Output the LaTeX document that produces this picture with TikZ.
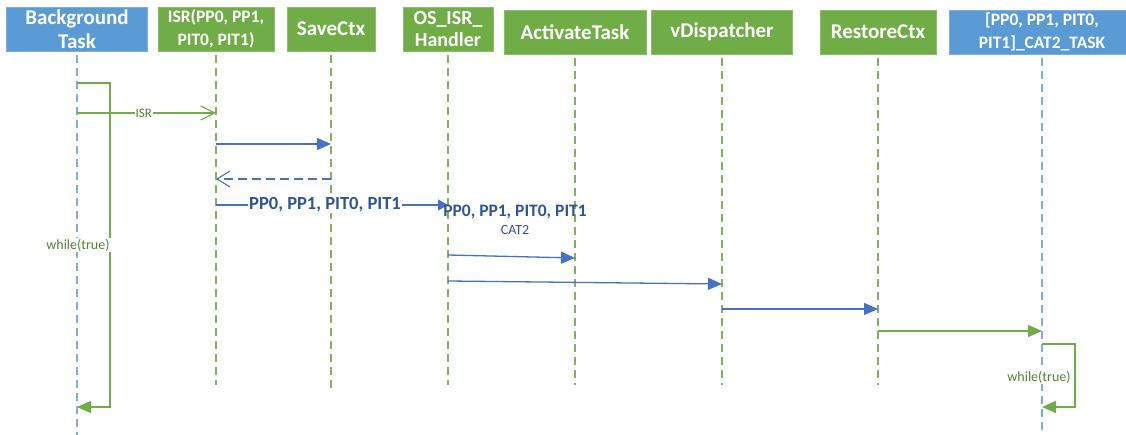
\documentclass[tikz,border=0pt]{standalone}
\usepackage{fontspec}
\setmainfont{Carlito}
\usetikzlibrary{arrows.meta}
\definecolor{boxblue}{HTML}{5B9BD5}
\definecolor{boxgreen}{HTML}{70AD47}
\definecolor{msgblue}{HTML}{4472C4}
\definecolor{lblblue}{HTML}{2F5597}
\definecolor{lblgreen}{HTML}{548235}
\tikzset{
  actor/.style={fill=#1, draw=#1!80!white, line width=0.6pt, text=white, align=center,
    font=\bfseries\fontsize{21}{23.5}\selectfont, inner sep=0pt, minimum height=44pt},
  smallactor/.style={actor=#1, font=\bfseries\fontsize{17.5}{22.5}\selectfont},
  lifeline/.style={draw=#1, line width=1.2pt, dash pattern=on 8pt off 5pt},
  call/.style={draw=msgblue, line width=1.3pt, -{Triangle[length=14pt,width=12pt]}},
  callsmall/.style={draw=msgblue, line width=1.3pt, -{Triangle[length=10pt,width=11pt]}},
  reply/.style={draw=msgblue, line width=1.1pt, dash pattern=on 9pt off 5pt,
    -{Straight Barb[length=13pt,width=16pt,line width=1.1pt]}},
  signal/.style={draw=boxgreen, line width=1.2pt,
    -{Straight Barb[length=14pt,width=14pt,line width=1.2pt]}},
  gcall/.style={draw=boxgreen, line width=1.3pt, -{Triangle[length=14pt,width=12pt]}},
  loopline/.style={draw=boxgreen, line width=1.3pt, -{Triangle[length=14pt,width=12pt]}},
  glabel/.style={text=lblgreen, fill=white, inner sep=1pt, font=\fontsize{14}{16}\selectfont},
  blabel/.style={text=lblblue, fill=white, inner sep=1pt, font=\bfseries\fontsize{18.5}{20}\selectfont},
  note/.style={text=lblblue, inner sep=1pt},
}
\begin{document}
\begin{tikzpicture}[x=1pt, y=-1pt]
\useasboundingbox (0,0) rectangle (1126,435);
\clip (0,0) rectangle (1126,435);

% participants
\node[actor=boxblue, minimum width=141pt] (bg) at (77,29) {Background\\Task};
\node[smallactor=boxgreen, minimum width=116pt] (isr) at (216,29) {ISR(PP0, PP1,\\PIT0, PIT1)};
\node[actor=boxgreen, minimum width=88pt] (save) at (331,29) {SaveCtx};
\node[actor=boxgreen, minimum width=90pt, font=\bfseries\fontsize{20}{22}\selectfont] (osr) at (448,29) {OS\_ISR\_\\Handler};
\node[actor=boxgreen, minimum width=142pt] (act) at (575,32) {ActivateTask};
\node[actor=boxgreen, minimum width=141pt] (vd) at (722,32) {vDispatcher};
\node[actor=boxgreen, minimum width=116pt] (rest) at (878,32) {RestoreCtx};
\node[smallactor=boxblue, minimum width=186pt] (task) at (1042,32) {[PP0, PP1, PIT0,\\PIT1]\_CAT2\_TASK};

% lifeline ends
\coordinate (bg-end) at (77,435);
\coordinate (isr-end) at (216,385);
\coordinate (save-end) at (331,392);
\coordinate (osr-end) at (448,385);
\coordinate (act-end) at (575,385);
\coordinate (vd-end) at (722,385);
\coordinate (rest-end) at (878,385);
\coordinate (task-end) at (1042,435);

% lifelines
\draw[lifeline=boxblue!80!white] ([yshift=-4pt]bg.south) -- (bg-end);
\draw[lifeline=boxgreen!90!white] ([yshift=-4pt]isr.south) -- (isr-end);
\draw[lifeline=boxgreen!90!white] ([yshift=-4pt]save.south) -- (save-end);
\draw[lifeline=boxgreen!90!white] ([yshift=-4pt]osr.south) -- (osr-end);
\draw[lifeline=boxgreen!90!white] ([yshift=-4pt]act.south) -- (act-end);
\draw[lifeline=boxgreen!90!white] ([yshift=-4pt]vd.south) -- (vd-end);
\draw[lifeline=boxgreen!90!white] ([yshift=-4pt]rest.south) -- (rest-end);
\draw[lifeline=boxblue!80!white] ([yshift=-4pt]task.south) -- (task-end);

% background loop
\coordinate (bgl1) at (110,83);
\coordinate (bgl2) at (110,407);
\draw[loopline] (bg |- bgl1) -- (bgl1) -- (bgl2) -- (bg |- bgl2);
\node[glabel] (bgwhile) at (78,245) {while(true)};

% messages
\draw[signal] (bg |- 0,113) -- node[glabel, pos=0.48, font=\fontsize{13}{15}\selectfont] (isrlbl) {ISR} (isr |- 0,113);
\draw[call] (isr |- 0,144) -- (save |- 0,144);
\draw[reply] (save |- 0,179) -- (isr |- 0,179);
\draw[callsmall] (isr |- 0,205) -- node[blabel, pos=0.47] (pplbl) {PP0, PP1, PIT0, PIT1} (osr |- 0,205);
\node[note, font=\bfseries\fontsize{17.5}{19}\selectfont] (ppnote) at (515,212) {PP0, PP1, PIT0, PIT1};
\node[note, font=\fontsize{14}{16}\selectfont] (catnote) at (515,230) {CAT2};
\draw[call] (osr |- 0,255) -- (act |- 0,258);
\draw[call] (osr |- 0,281) -- (vd |- 0,284);
\draw[call] (vd |- 0,309) -- (rest |- 0,309);
\draw[gcall] (rest |- 0,331) -- (task |- 0,331);

% task loop
\coordinate (tl1) at (1075,344);
\coordinate (tl2) at (1075,407);
\draw[loopline] (task |- tl1) -- (tl1) -- (tl2) -- (task |- tl2);
\node[glabel] (taskwhile) at (1039,377) {while(true)};
\end{tikzpicture}
\end{document}
